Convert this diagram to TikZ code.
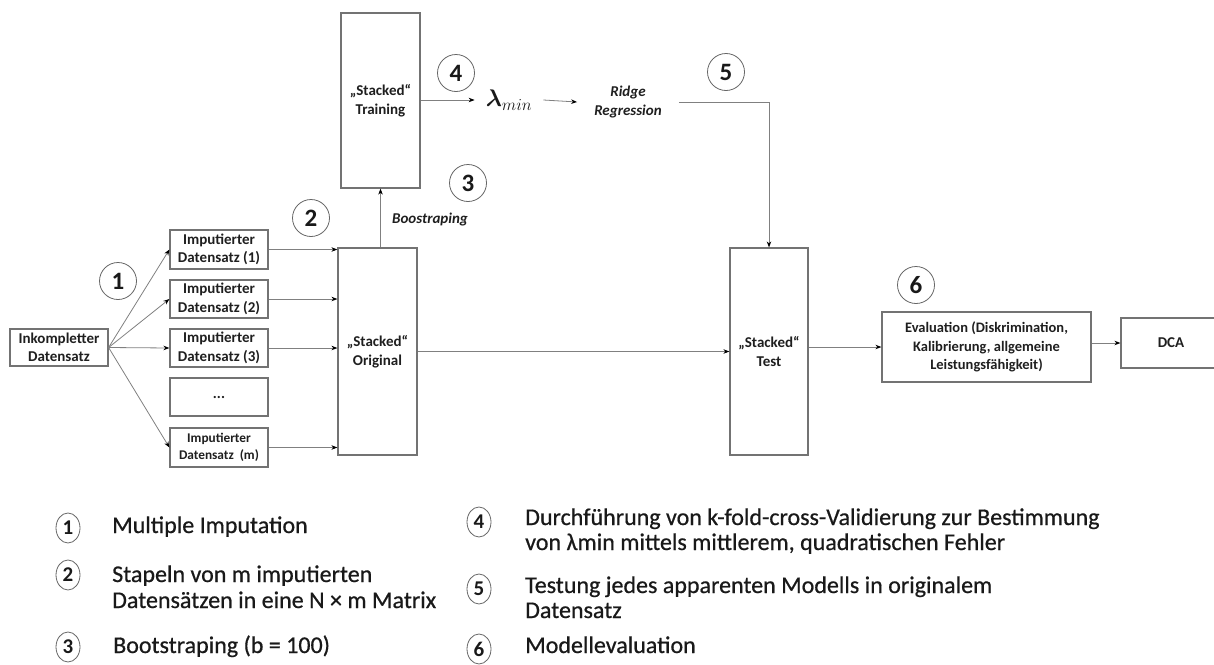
\RequirePackage{fix-cm}
\documentclass[tikz,border=0pt]{standalone}
\usepackage{fontspec}
\setmainfont{Carlito}
\newfontfamily\legfont{Carlito}[FakeBold=0.6]
\usepackage{amsmath}
\usetikzlibrary{arrows.meta,shapes.geometric}
\tikzset{
  box/.style={draw=black!55, line width=1.2pt, fill=white, align=center, inner sep=0pt,
    font=\fontsize{15}{18.5}\selectfont\bfseries, text=black!88},
  arr/.style={draw=black!50, line width=0.8pt, -{Stealth[length=6pt,width=4.5pt,color=black]}},
  num/.style={circle, draw=black!60, line width=0.8pt, minimum size=37pt, inner sep=0pt,
    font=\fontsize{25}{25}\selectfont\bfseries, text=black!90},
  lnum/.style={ellipse, draw=black!60, line width=0.8pt, minimum width=24pt, minimum height=30pt, inner sep=0pt,
    font=\fontsize{21}{21}\selectfont\bfseries, text=black!90},
  lab/.style={font=\fontsize{15}{18.5}\selectfont\bfseries\itshape, text=black!88, align=center},
  lamstyle/.style={inner xsep=11pt, inner ysep=0pt, font=\fontsize{24}{24}\selectfont, text=black!90},
  leg/.style={anchor=base west, inner sep=0pt, font=\fontsize{24}{25.5}\legfont, text=black!90}
}
\begin{document}
\begin{tikzpicture}[x=1pt,y=-1pt]
\useasboundingbox (0,0) rectangle (1214,664);

% boxes
\node[box, minimum width=98pt, minimum height=37pt] (ink) at (59,347.5) {Inkompletter\\Datensatz};
\node[box, minimum width=98pt, minimum height=39pt] (imp1) at (219,249.5) {Imputierter\\Datensatz (1)};
\node[box, minimum width=98pt, minimum height=38pt] (imp2) at (219,299) {Imputierter\\Datensatz (2)};
\node[box, minimum width=98pt, minimum height=38pt] (imp3) at (219,348) {Imputierter\\Datensatz (3)};
\node[box, minimum width=98pt, minimum height=38pt] (dots) at (219,397) {...};
\node[box, minimum width=98pt, minimum height=39pt, font=\fontsize{13.3}{17}\selectfont\bfseries] (impm) at (219,447.5) {Imputierter\\Datensatz~ (m)};
\node[box, minimum width=79pt, minimum height=175pt] (train) at (380.5,100.5) {„Stacked“\\Training};
\node[box, minimum width=79pt, minimum height=207pt] (orig) at (377.5,351.5) {„Stacked“\\Original};
\node[box, minimum width=78pt, minimum height=207pt] (test) at (769,351.5) {„Stacked“\\Test};
\node[box, minimum width=209pt, minimum height=70pt, font=\fontsize{14.5}{18.5}\selectfont\bfseries] (eval) at (986.5,347) {Evaluation (Diskrimination,\\Kalibrierung, allgemeine\\Leistungsfähigkeit)};
\node[box, minimum width=100pt, minimum height=50pt] (dca) at (1171,343) {DCA};

% free labels
\node[lamstyle] (lam) at (509,100) {$\boldsymbol{\lambda}_{min}$};
\node[lab, inner xsep=17pt, inner ysep=0pt] (ridge) at (628,102) {Ridge\\Regression};
\node[lab] (boot) at (430,219) {Boostraping};

% circles
\node[num] (c1) at (118,281) {1};
\node[num] (c2) at (311,218) {2};
\node[num] (c3) at (468,183) {3};
\node[num] (c4) at (456,73) {4};
\node[num] (c5) at (726,72) {5};
\node[num] (c6) at (916,285) {6};

% connectors
\foreach \t in {imp1,imp2,imp3,impm}{
  \draw[arr] (ink.east) -- (\t.west);
  \draw[arr] (\t.east) -- (\t.east -| orig.west);
}
\draw[arr] (orig.north -| train.south) -- (train.south);
\draw[arr] (train.east |- lam.west) -- (lam.west);
\draw[arr] (lam.east) -- (ridge.west);
\draw[arr] (ridge.east) -- (ridge.east -| test.north) -- (test.north);
\draw[arr] (orig.east) -- (test.west);
\draw[arr] (eval.west -| test.east) -- (eval.west);
\draw[arr] (dca.west -| eval.east) -- (dca.west);

% legend
\node[lnum] (l1) at (68,528) {1};
\node[lnum] (l2) at (68,575) {2};
\node[lnum] (l3) at (68,647) {3};
\node[lnum] (l4) at (479,522) {4};
\node[lnum] (l5) at (479,589) {5};
\node[lnum] (l6) at (479,649) {6};

\node[leg] (t1) at (112,533) {Multiple Imputation};
\node[leg] (t2a) at (112,582) {Stapeln von m imputierten};
\node[leg] (t2b) at (112,608) {Datensätzen in eine N × m Matrix};
\node[leg] (t3) at (113,653) {Bootstraping (b = 100)};
\node[leg] (t4a) at (525,525) {Durchführung von k-fold-cross-Validierung zur Bestimmung};
\node[leg] (t4b) at (525,550) {von λmin mittels mittlerem, quadratischen Fehler};
\node[leg] (t5a) at (525,593) {Testung jedes apparenten Modells in originalem};
\node[leg] (t5b) at (525,618) {Datensatz};
\node[leg] (t6) at (525,653) {Modellevaluation};
\end{tikzpicture}
\end{document}
